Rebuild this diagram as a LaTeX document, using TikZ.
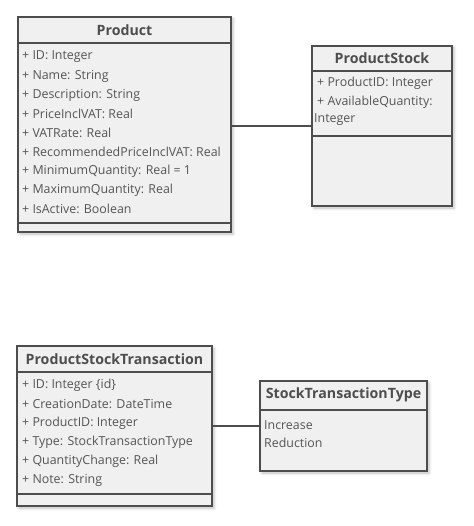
\documentclass[tikz,border=0pt]{standalone}
\usepackage{fontspec}
\setmainfont{Open Sans}
\usetikzlibrary{positioning,shadows.blur}
\definecolor{boxfill}{HTML}{F0F0F0}
\definecolor{boxline}{HTML}{4D4D4D}
\definecolor{attrtext}{HTML}{555555}
\tikzset{
  classbox/.style={draw=boxline,line width=1.3pt,fill=boxfill,inner sep=0pt,
    blur shadow={shadow xshift=2pt,shadow yshift=-2pt,shadow blur radius=3pt,shadow opacity=25}},
  divider/.style={draw=boxline,line width=1.3pt},
  classname/.style={font=\bfseries\fontsize{14.2}{16}\selectfont,text=boxline,inner sep=0pt},
  attr/.style={anchor=west,inner sep=0pt,font=\fontsize{12.4}{14}\selectfont,text=attrtext},
  assoc/.style={draw=boxline,line width=1.2pt},
}
\begin{document}
\begin{tikzpicture}[x=1pt,y=-1pt]
  \useasboundingbox (0,0) rectangle (473,526);
  % Product
  \node[classbox,minimum width=213pt,minimum height=215pt] (product) at (124.5,124.5) {};
  \node[classname] (producttitle) at (124.5,30) {Product};
  \draw[divider] (product.west |- 0,43) -- (product.east |- 0,43);
  \draw[divider] (product.west |- 0,223) -- (product.east |- 0,223);
  \foreach \a [count=\i] in {ID: Integer, Name: String, Description: String,
      PriceInclVAT: Real, VATRate: Real, RecommendedPriceInclVAT: Real,
      MinimumQuantity: Real = 1, MaximumQuantity: Real, IsActive: Boolean}
    \node[attr] (productattr\i) at (22,{38+19*\i}) {+ \a};
  % ProductStock
  \node[classbox,minimum width=140pt,minimum height=160pt] (stock) at (382,126) {};
  \node[classname] (stocktitle) at (382,58) {ProductStock};
  \draw[divider] (stock.west |- 0,71) -- (stock.east |- 0,71);
  \draw[divider] (stock.west |- 0,136) -- (stock.east |- 0,136);
  \node[attr] (stockattr1) at (317,83) {+ ProductID: Integer};
  \node[attr] (stockattr2) at (317,102) {+ AvailableQuantity:};
  \node[attr] (stockattr3) at (314,120) {Integer};
  % ProductStockTransaction
  \node[classbox,minimum width=195pt,minimum height=160pt] (trans) at (114.5,426) {};
  \node[classname] (transtitle) at (114.5,359) {ProductStockTransaction};
  \draw[divider] (trans.west |- 0,372) -- (trans.east |- 0,372);
  \draw[divider] (trans.west |- 0,494) -- (trans.east |- 0,494);
  \foreach \a [count=\i] in {ID: Integer \{id\}, CreationDate: DateTime,
      ProductID: Integer, Type: StockTransactionType,
      QuantityChange: Real, Note: String}
    \node[attr] (transattr\i) at (22,{366+19*\i}) {+ \a};
  % StockTransactionType
  \node[classbox,minimum width=167pt,minimum height=90pt] (ttype) at (343.5,426) {};
  \node[classname] (ttypetitle) at (343.5,395) {StockTransactionType};
  \draw[divider] (ttype.west |- 0,410) -- (ttype.east |- 0,410);
  \node[attr] (ttypelit1) at (264,425) {Increase};
  \node[attr] (ttypelit2) at (264,443) {Reduction};
  % associations
  \draw[assoc] (product.east |- stock.west) -- (stock.west);
  \draw[assoc] (trans.east |- ttype.west) -- (ttype.west);
\end{tikzpicture}
\end{document}
